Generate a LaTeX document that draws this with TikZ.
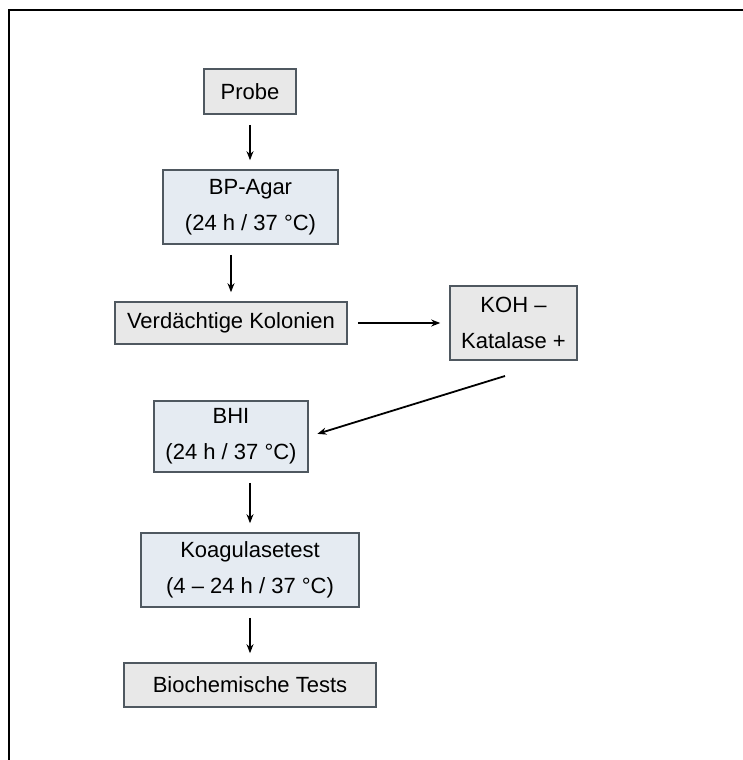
\documentclass[tikz,border=0pt]{standalone}
\usepackage{fontspec}
\setmainfont{Liberation Sans}
\usetikzlibrary{arrows.meta}
\definecolor{boxgray}{HTML}{E8E8E8}
\definecolor{boxblue}{HTML}{E5EBF2}
\definecolor{boxline}{HTML}{4F5860}
\begin{document}
\begin{tikzpicture}[x=1pt,y=-1pt]
	\tikzset{
		stepbox/.style={draw=boxline, line width=1.6pt, fill=boxgray, align=center,
			inner sep=0pt, font=\fontsize{22}{36}\selectfont},
		incub/.style={stepbox, fill=boxblue},
		flow/.style={-{Stealth[length=9pt,width=7pt]}, line width=1.8pt,
			shorten <=10pt, shorten >=9pt}
	}
	\useasboundingbox (0,0) rectangle (743,760);

	% Frame (open at right and bottom)
	\draw[line width=2.6pt] (9,760) -- (9,10) -- (743,10);

	% Steps
	\node[stepbox, minimum width=92pt, minimum height=45pt] (probe) at (250,91.5) {Probe};
	\node[incub, minimum width=175pt, minimum height=74pt] (bp) at (250.5,207) {BP-Agar\\(24 h / 37 °C)};
	\node[stepbox, minimum width=232pt, minimum height=42pt] (kolonien) at (231,323) {Verdächtige Kolonien};
	\node[stepbox, minimum width=127pt, minimum height=74pt] (koh) at (513.5,323) {KOH –\\Katalase +};
	\node[incub, minimum width=154pt, minimum height=71pt] (bhi) at (231,436.5) {BHI\\(24 h / 37 °C)};
	\node[incub, minimum width=218pt, minimum height=74pt] (koag) at (250,570) {Koagulasetest\\(4 – 24 h / 37 °C)};
	\node[stepbox, minimum width=252pt, minimum height=44pt] (bio) at (250,685) {Biochemische Tests};

	% Arrows
	\coordinate (kohout) at (505,376);
	\draw[flow] (probe.south) -- (probe.south |- bp.north);
	\draw[flow] (bp.south -| kolonien.north) -- (kolonien.north);
	\draw[flow] (kolonien.east) -- (koh.west);
	\draw[flow, shorten <=0pt] (kohout) -- (bhi.east);
	\draw[flow] (bhi.south -| koag.north) -- (koag.north);
	\draw[flow] (koag.south) -- (bio.north);
\end{tikzpicture}
\end{document}
